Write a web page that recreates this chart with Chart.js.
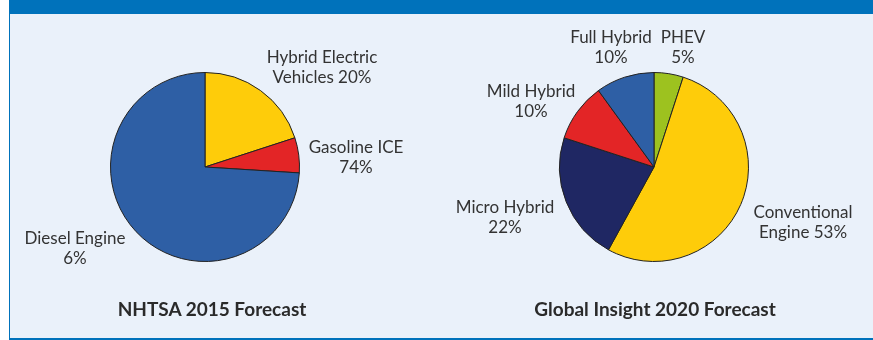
<!DOCTYPE html>
<html>
<head>
<meta charset="utf-8">
<script src="https://cdn.jsdelivr.net/npm/chart.js@4.4.0/dist/chart.umd.min.js"></script>
<style>
    body { margin: 0; width: 873px; height: 340px; background: #fff; position: relative; overflow: hidden; font-family: Lato, sans-serif; }
    #panel { position: absolute; left: 9px; top: 0; width: 864px; height: 340px; background: #eaf1fa; border-left: 1px solid #0072bb; border-bottom: 2px solid #0072bb; box-sizing: border-box; }
    #bar { position: absolute; left: 9px; top: 0; width: 864px; height: 14px; background: #0072bb; }
    .box { position: absolute; top: 14px; height: 324px; }
    .title { position: absolute; top: 297px; width: 300px; text-align: center; font-weight: bold; font-size: 19px; color: #2a2a2a; }
</style>
</head>
<body>
<div id="panel"></div>
<div id="bar"></div>
<div class="box" style="left:0;width:436px"><canvas id="nhtsa"></canvas></div>
<div class="box" style="left:436px;width:437px"><canvas id="global"></canvas></div>
<div class="title" style="left:62px">NHTSA 2015 Forecast</div>
<div class="title" style="left:505px">Global Insight 2020 Forecast</div>
<script>
// NHTSA 2015 (slice sizes as drawn; printed labels as in the source)
const nhtsaCategories = ["Hybrid Electric Vehicles", "Gasoline ICE", "Diesel Engine"];
const nhtsaValues = [20, 6, 74];
const nhtsaText = [["Hybrid Electric", "Vehicles 20%"], ["Gasoline ICE", "74%"], ["Diesel Engine", "6%"]];
const nhtsaColors = ["#fecc0a", "#e32526", "#2e5fa5"];

// Global Insight 2020
const globalCategories = ["PHEV", "Conventional Engine", "Micro Hybrid", "Mild Hybrid", "Full Hybrid"];
const globalValues = [5, 53, 22, 10, 10];
const globalText = [["PHEV", "5%"], ["Conventional", "Engine 53%"], ["Micro Hybrid", "22%"], ["Mild Hybrid", "10%"], ["Full Hybrid", "10%"]];
const globalColors = ["#9dc21f", "#fecc0a", "#1f2763", "#e32526", "#2e5fa5"];

// label offsets from pie centre
const nhtsaPos = [[117, -109], [151, -19], [-130, 72]];
const globalPos = [[29, -129], [149, 46], [-149, 41], [-123, -75], [-43, -129]];

const sliceLabels = {
    id: "sliceLabels",
    afterDraw(chart, args, opts) {
        const arc = chart.getDatasetMeta(0).data[0];
        const ctx = chart.ctx;
        ctx.save();
        ctx.font = "17px Lato, sans-serif";
        ctx.fillStyle = "#333";
        ctx.textAlign = "center";
        ctx.textBaseline = "middle";
        opts.text.forEach((lines, i) => {
            const [dx, dy] = opts.pos[i];
            lines.forEach((t, j) => ctx.fillText(t, arc.x + dx, arc.y + dy + j * 20));
        });
        ctx.restore();
    }
};

const makePie = (id, labels, values, colors, text, pos, pad) => {
    new Chart(document.getElementById(id), {
        type: "pie",
        data: {
            labels: labels,
            datasets: [{
                data: values,
                backgroundColor: colors,
                borderColor: "#222",
                borderWidth: 1
            }]
        },
        options: {
            responsive: false,
            animation: false,
            layout: { padding: pad },
            plugins: {
                legend: { display: false },
                tooltip: { enabled: false },
                sliceLabels: { text: text, pos: pos }
            }
        },
        plugins: [sliceLabels]
    });
};

const c1 = document.getElementById("nhtsa");
c1.width = 436; c1.height = 324;
const c2 = document.getElementById("global");
c2.width = 437; c2.height = 324;

makePie("nhtsa", nhtsaCategories, nhtsaValues, nhtsaColors, nhtsaText, nhtsaPos, { left: 110, right: 136, top: 58, bottom: 76 });
makePie("global", globalCategories, globalValues, globalColors, globalText, globalPos, { left: 123, right: 124, top: 58, bottom: 76 });
</script>
</body>
</html>
